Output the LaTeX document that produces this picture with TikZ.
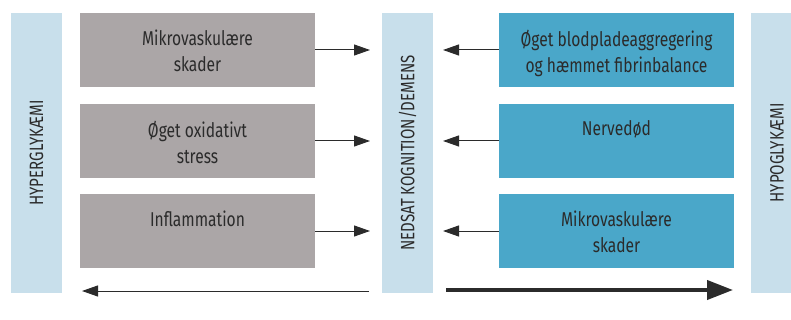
\documentclass[tikz,border=0pt]{standalone}
\usepackage{fontspec}
\setmainfont{Fira Sans}[FakeStretch=0.78]
\usetikzlibrary{arrows.meta}
\definecolor{barblue}{HTML}{C8DFEB}
\definecolor{boxgrey}{HTML}{ABA6A7}
\definecolor{boxblue}{HTML}{4AA7C9}
\definecolor{txt}{HTML}{2B2B2B}
\tikzset{
  bar/.style={fill=barblue, draw=none},
  box/.style={draw=none, minimum width=235pt, minimum height=74pt, inner sep=0pt},
  greybox/.style={box, fill=boxgrey},
  bluebox/.style={box, fill=boxblue},
  boxtext/.style={align=center, font=\fontsize{20}{26}\selectfont, text=txt, anchor=north, inner sep=0pt},
  vtext/.style={rotate=90, font=\fontsize{19.3}{22}\selectfont, text=txt, inner sep=0pt},
  arr/.style={draw=txt, line width=1pt, -{Triangle[length=16pt,width=11pt]}},
  bigarr/.style={draw=txt, line width=4pt, -{Triangle[length=26pt,width=19pt]}},
}
\begin{document}
\begin{tikzpicture}[x=1pt,y=-1pt]
\useasboundingbox (0,0) rectangle (791,320);
% bars
\path[bar] (11,13) rectangle (62,293);
\path[bar] (382,13) rectangle (433,293);
\path[bar] (751,13) rectangle (803,293);
\node[vtext] (ltext) at (36.5,153) {HYPERGLYKÆMI};
\node[vtext] (ctext) at (407.5,153) {NEDSAT KOGNITION/DEMENS};
\node[vtext] (rtext) at (777,153) {HYPOGLYKÆMI};
\coordinate (cw) at (382,153);
\coordinate (ce) at (433,153);
% grey boxes
\node[greybox] (g1) at (197.5,50) {};
\node[greybox] (g2) at (197.5,141) {};
\node[greybox] (g3) at (197.5,231) {};
\node[boxtext] (g1t) at ([yshift=-17pt]g1.north) {Mikrovaskulære\\skader};
\node[boxtext] (g2t) at ([yshift=-17pt]g2.north) {Øget oxidativt\\stress};
\node[boxtext] (g3t) at ([yshift=-17pt]g3.north) {Inflammation};
% blue boxes
\node[bluebox] (b1) at (616.5,50) {};
\node[bluebox] (b2) at (616.5,141) {};
\node[bluebox] (b3) at (616.5,231) {};
\node[boxtext] (b1t) at ([yshift=-17pt]b1.north) {Øget blodpladeaggregering\\og hæmmet fibrinbalance};
\node[boxtext] (b2t) at ([yshift=-17pt]b2.north) {Nervedød};
\node[boxtext] (b3t) at ([yshift=-17pt]b3.north) {Mikrovaskulære\\skader};
% arrows
\draw[arr, shorten >=12pt] (g1.east) -- (g1.east -| cw);
\draw[arr, shorten >=12pt] (g2.east) -- (g2.east -| cw);
\draw[arr, shorten >=12pt] (g3.east) -- (g3.east -| cw);
\draw[arr, shorten >=10pt] (b1.west) -- (b1.west -| ce);
\draw[arr, shorten >=10pt] (b2.west) -- (b2.west -| ce);
\draw[arr, shorten >=10pt] (b3.west) -- (b3.west -| ce);
\coordinate (la) at (369,291);
\coordinate (lb) at (82,291);
\coordinate (ra) at (446,290);
\coordinate (rb) at (733,290);
\draw[arr] (la) -- (lb);
\draw[bigarr] (ra) -- (rb);
\end{tikzpicture}
\end{document}
